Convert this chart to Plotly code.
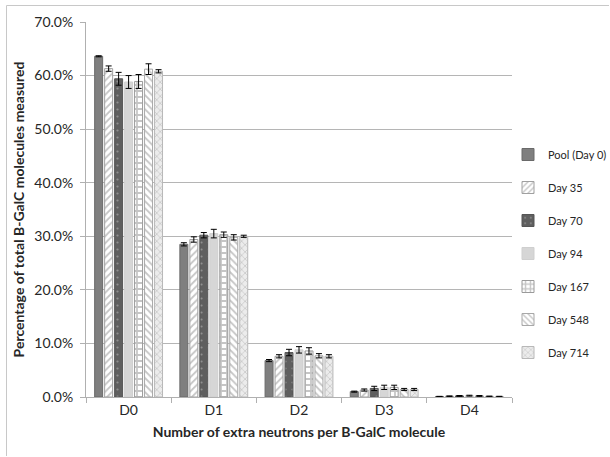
import plotly.graph_objects as go

categories = ["D0", "D1", "D2", "D3", "D4"]
series_names = ["Pool (Day 0)", "Day 35", "Day 70", "Day 94", "Day 167", "Day 548", "Day 714"]

pool = [63.6, 28.5, 6.8, 1.0, 0.10]
day35 = [61.3, 29.4, 7.6, 1.3, 0.15]
day70 = [59.4, 30.2, 8.3, 1.6, 0.20]
day94 = [58.8, 30.5, 8.8, 1.8, 0.25]
day167 = [58.9, 30.3, 8.6, 1.8, 0.20]
day548 = [61.2, 29.8, 7.7, 1.4, 0.12]
day714 = [60.8, 30.0, 7.6, 1.4, 0.10]

err_pool = [0.1, 0.3, 0.2, 0.1, 0.02]
err_day35 = [0.5, 0.5, 0.3, 0.2, 0.05]
err_day70 = [1.2, 0.5, 0.6, 0.4, 0.08]
err_day94 = [1.2, 0.8, 0.6, 0.4, 0.08]
err_day167 = [1.3, 0.5, 0.6, 0.4, 0.08]
err_day548 = [1.0, 0.5, 0.4, 0.2, 0.05]
err_day714 = [0.3, 0.2, 0.3, 0.2, 0.03]

values = [pool, day35, day70, day94, day167, day548, day714]
errors = [err_pool, err_day35, err_day70, err_day94, err_day167, err_day548, err_day714]

styles = [
    dict(color="#7f7f7f", shape="", fg="#7f7f7f", line="#6a6a6a", size=5, sol=0.3),
    dict(color="#ffffff", shape="/", fg="#8c8c8c", line="#a0a0a0", size=5, sol=0.35),
    dict(color="#5f5f5f", shape=".", fg="#c0c0c0", line="#555555", size=7, sol=0.08),
    dict(color="#d6d6d6", shape="", fg="#d6d6d6", line="#cfcfcf", size=5, sol=0.3),
    dict(color="#ffffff", shape="+", fg="#8c8c8c", line="#9a9a9a", size=6, sol=0.5),
    dict(color="#ffffff", shape="\\", fg="#8c8c8c", line="#a8a8a8", size=5, sol=0.35),
    dict(color="#ececec", shape="x", fg="#a6a6a6", line="#b8b8b8", size=5, sol=0.3),
]

fig = go.Figure()
for name, vals, errs, st in zip(series_names, values, errors, styles):
    marker = dict(color=st["color"], line=dict(color=st["line"], width=1))
    if st["shape"]:
        marker["pattern"] = dict(shape=st["shape"], fgcolor=st["fg"], bgcolor=st["color"],
                                 size=st["size"], solidity=st["sol"], fillmode="overlay")
    fig.add_trace(go.Bar(
        name=name, x=categories, y=vals, marker=marker, legendgroup=name,
        error_y=dict(type="data", array=errs, visible=True, color="#000000",
                     thickness=1, width=3),
    ))

W, H = 610, 457
ml, mr, mt, mb = 86, 98, 22, 60
pw, ph = W - ml - mr, H - mt - mb

def px_x(x):
    return (x - ml) / pw

def px_y(y):
    return (H - mb - y) / ph

frame = dict(color="#c8c8c8", width=1)

fig.update_layout(
    width=W, height=H,
    margin=dict(l=ml, r=mr, t=mt, b=mb, autoexpand=False),
    paper_bgcolor="white", plot_bgcolor="white",
    barmode="group", bargap=0.18, bargroupgap=0.2,
    font=dict(family="Lato, Open Sans, sans-serif", size=14, color="#262626"),
    showlegend=True,
    legend=dict(xref="container", yref="container",
                x=508 / W, y=1 - 140 / H, xanchor="left", yanchor="top",
                font=dict(size=11, color="#262626"),
                tracegroupgap=14, itemwidth=30,
                bgcolor="rgba(0,0,0,0)"),
    xaxis=dict(
        title=dict(text="<b>Number of extra neutrons per B-GalC molecule</b>", standoff=10,
                   font=dict(size=14)),
        showline=True, linecolor="#b0b0b0", linewidth=1,
        ticks="outside", tickson="boundaries", ticklen=5, tickcolor="#b0b0b0",
        tickfont=dict(size=14),
    ),
    yaxis=dict(
        title=dict(text="<b>Percentage of total B-GalC molecules measured</b>", standoff=6,
                   font=dict(size=14)),
        range=[0, 70], dtick=10, tickformat=".1f", ticksuffix="%",
        showline=True, linecolor="#b0b0b0", linewidth=1,
        ticks="outside", ticklen=5, tickcolor="#b0b0b0", ticklabelstandoff=4,
        showgrid=True, gridcolor="#b5b5b5", gridwidth=1,
        zeroline=False, tickfont=dict(size=14),
    ),
    shapes=[
        dict(type="line", xref="paper", yref="paper",
             x0=px_x(6.5), x1=px_x(6.5), y0=px_y(456), y1=px_y(5.5), line=frame),
        dict(type="line", xref="paper", yref="paper",
             x0=px_x(6.5), x1=px_x(609), y0=px_y(5.5), y1=px_y(5.5), line=frame),
    ],
)

fig.write_html("out.html", config={"displayModeBar": False},
               post_script="document.body.style.margin='0px';")
